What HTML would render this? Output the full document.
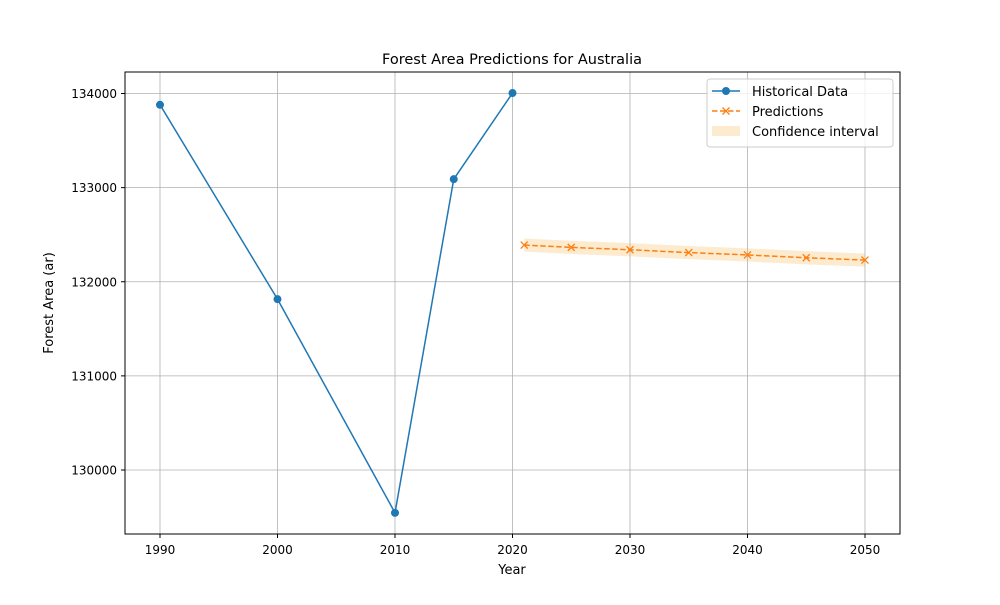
<!DOCTYPE html>
<html><head><meta charset="utf-8"><style>
body{margin:0;background:#fff;font-family:"Liberation Sans","DejaVu Sans",sans-serif;}
svg text{font-family:"DejaVu Sans","Liberation Sans",sans-serif;}
</style></head><body>
<svg id="chart" width="1000" height="600" xmlns="http://www.w3.org/2000/svg">
<rect width="1000" height="600" fill="#fff"/>
<text x="512" y="64" text-anchor="middle" font-size="14.5">Forest Area Predictions for Australia</text>
<g id="bandg"></g>
<g id="grid"></g>
<g id="ticks"></g>
<g id="marks"></g>
<rect x="125" y="72" width="775" height="462" fill="none" stroke="#000" stroke-width="1"/>
<text x="512" y="574" text-anchor="middle" font-size="13">Year</text>
<text x="53" y="303" text-anchor="middle" font-size="13" transform="rotate(-90 53 303)">Forest Area (ar)</text>
<g>
<rect x="707" y="79" width="186" height="68" rx="3" fill="#fff" fill-opacity="0.8" stroke="#ccc"/>
<g>
<line x1="712" y1="91" x2="740" y2="91" stroke="#1f77b4" stroke-width="1.5"/><circle cx="726" cy="91" r="4" fill="#1f77b4"/>
<text x="752" y="96" font-size="13">Historical Data</text></g>
<g>
<line x1="712" y1="111" x2="740" y2="111" stroke="#ff7f0e" stroke-width="1.5" stroke-dasharray="5.5,2.5"/>
<path d="M722.5 107.5l7 7M729.5 107.5l-7 7" stroke="#ff7f0e" stroke-width="1.3"/>
<text x="752" y="116" font-size="13">Predictions</text></g>
<g>
<rect x="712" y="126" width="28" height="10" fill="#fdebcf"/>
<text x="752" y="136" font-size="13">Confidence interval</text></g>
</g>
</svg>
<script>
const histYears=[1990,2000,2010,2015,2020];
const histValues=[133880,131815,129545,133090,134005];
const predYears=[2021,2025,2030,2035,2040,2045,2050];
const predValues=[132390,132365,132340,132310,132285,132255,132230];
const ciLower=[132320,132295,132270,132240,132215,132185,132160];
const ciUpper=[132460,132435,132410,132380,132355,132325,132300];
const xTicks=[1990,2000,2010,2020,2030,2040,2050];
const yTicks=[130000,131000,132000,133000,134000];
const NS='http://www.w3.org/2000/svg';
const xs=y=>160+(y-1990)*705/60;
const ys=v=>93.5+(134000-v)*376.5/4000;
function el(t,a,p){const e=document.createElementNS(NS,t);for(const k in a)e.setAttribute(k,a[k]);document.getElementById(p).appendChild(e);return e;}
xTicks.forEach(t=>{const x=xs(t);
const g=el('line',{x1:x,x2:x,y1:72,y2:534,stroke:'#b0b0b0','stroke-width':0.8},'grid');


el('line',{x1:x,x2:x,y1:534,y2:538,stroke:'#000'},'ticks');
const l=el('text',{x:x,y:554,'text-anchor':'middle','font-size':12},'ticks');l.textContent=t;

});
yTicks.forEach(t=>{const y=ys(t);
const g=el('line',{x1:125,x2:900,y1:y,y2:y,stroke:'#b0b0b0','stroke-width':0.8},'grid');


el('line',{x1:121,x2:125,y1:y,y2:y,stroke:'#000'},'ticks');
const l=el('text',{x:117,y:y+4.5,'text-anchor':'end','font-size':12},'ticks');l.textContent=t;

});
let d=predYears.map((y,i)=>(i?'L':'M')+xs(y)+' '+ys(ciUpper[i])).join(' ');
for(let i=predYears.length-1;i>=0;i--)d+=' L'+xs(predYears[i])+' '+ys(ciLower[i]);
const band=el('path',{d:d+'Z',fill:'#fdebcf'},'bandg');


const hl=el('polyline',{points:histYears.map((y,i)=>xs(y)+','+ys(histValues[i])).join(' '),fill:'none',stroke:'#1f77b4','stroke-width':1.5},'marks');


histYears.forEach((y,i)=>{const c=el('circle',{cx:xs(y),cy:ys(histValues[i]),r:4,fill:'#1f77b4'},'marks');

});
const pl=el('polyline',{points:predYears.map((y,i)=>xs(y)+','+ys(predValues[i])).join(' '),fill:'none',stroke:'#ff7f0e','stroke-width':1.5,'stroke-dasharray':'5.5,2.5'},'marks');


predYears.forEach((y,i)=>{const x=xs(y),v=ys(predValues[i]);
const m=el('path',{d:`M${x-3.5} ${v-3.5}l7 7M${x+3.5} ${v-3.5}l-7 7`,stroke:'#ff7f0e','stroke-width':1.3},'marks');

});
</script>
</body></html>
